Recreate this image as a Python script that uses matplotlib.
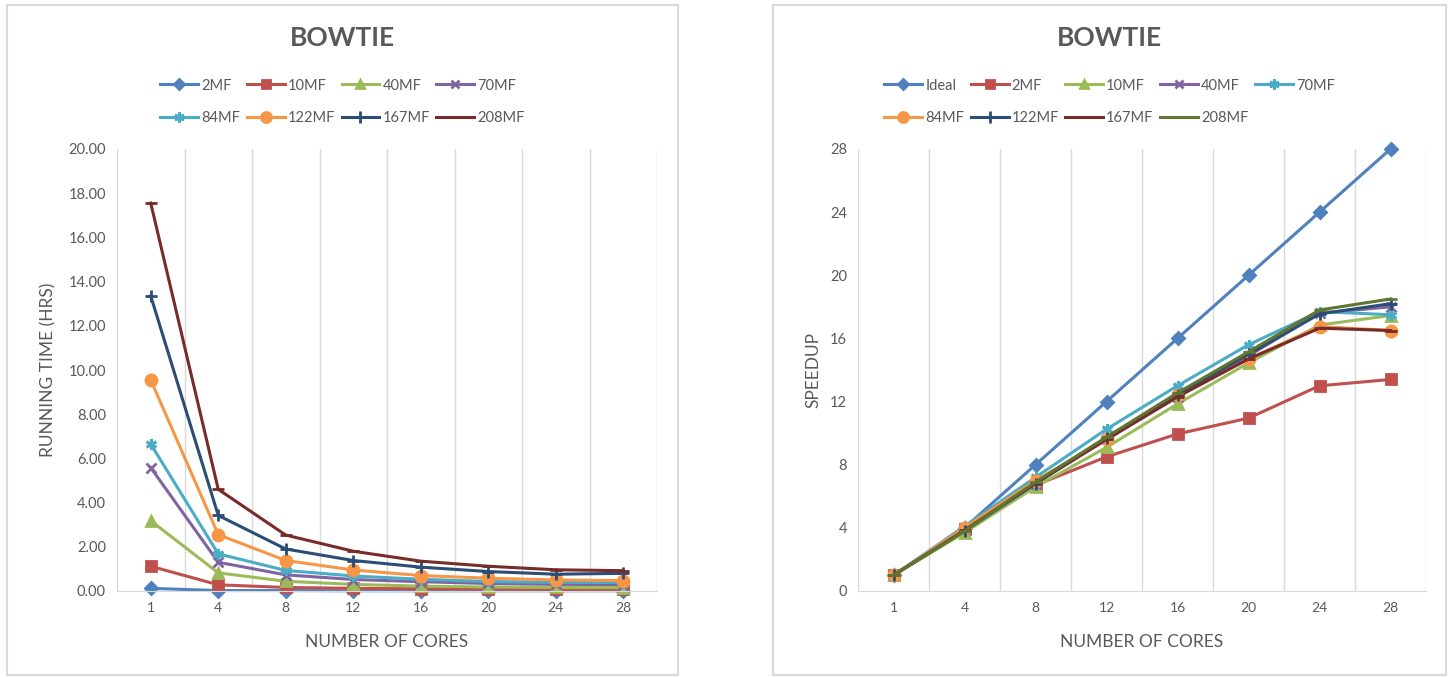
import matplotlib.pyplot as plt
from matplotlib.patches import Rectangle

plt.rcParams['font.family'] = ['Lato', 'DejaVu Sans']

cores = ['1', '4', '8', '12', '16', '20', '24', '28']

# running time (hrs), left chart
time_labels = ['2MF', '10MF', '40MF', '70MF', '84MF', '122MF', '167MF', '208MF']
t_2mf = [0.12, 0.02, 0.02, 0.01, 0.01, 0.01, 0.01, 0.01]
t_10mf = [1.12, 0.28, 0.16, 0.12, 0.10, 0.09, 0.08, 0.08]
t_40mf = [3.18, 0.82, 0.44, 0.30, 0.22, 0.18, 0.16, 0.15]
t_70mf = [5.58, 1.30, 0.73, 0.52, 0.42, 0.34, 0.30, 0.29]
t_84mf = [6.65, 1.68, 0.93, 0.68, 0.53, 0.43, 0.39, 0.38]
t_122mf = [9.55, 2.55, 1.38, 0.95, 0.70, 0.58, 0.50, 0.47]
t_167mf = [13.35, 3.42, 1.90, 1.38, 1.08, 0.88, 0.76, 0.80]
t_208mf = [17.55, 4.60, 2.53, 1.80, 1.35, 1.12, 0.96, 0.92]
time_series = [t_2mf, t_10mf, t_40mf, t_70mf, t_84mf, t_122mf, t_167mf, t_208mf]

# speedup, right chart
speed_labels = ['Ideal', '2MF', '10MF', '40MF', '70MF', '84MF', '122MF', '167MF', '208MF']
s_ideal = [1, 4, 8, 12, 16, 20, 24, 28]
s_2mf = [1, 3.95, 6.7, 8.5, 9.95, 10.95, 13.0, 13.4]
s_10mf = [1, 3.7, 6.6, 9.1, 11.85, 14.45, 16.85, 17.45]
s_40mf = [1, 3.9, 6.8, 9.6, 12.3, 14.9, 17.6, 18.0]
s_70mf = [1, 4.1, 7.2, 10.25, 13.0, 15.6, 17.7, 17.5]
s_84mf = [1, 4.0, 7.0, 9.6, 12.4, 14.7, 16.75, 16.5]
s_122mf = [1, 3.8, 6.8, 9.7, 12.4, 15.0, 17.55, 18.2]
s_167mf = [1, 3.85, 6.85, 9.6, 12.3, 14.7, 16.65, 16.5]
s_208mf = [1, 3.8, 6.9, 9.75, 12.55, 15.15, 17.8, 18.5]
speed_series = [s_ideal, s_2mf, s_10mf, s_40mf, s_70mf, s_84mf, s_122mf, s_167mf, s_208mf]

colors = ['#4F81BD', '#C0504D', '#9BBB59', '#8064A2', '#4BACC6',
          '#F79646', '#2C4D75', '#772C2A', '#5F7530']
asterisk = (6, 2, 0)
markers = ['D', 's', '^', 'x', asterisk, 'o', '+', '_', '_']
msizes = [6, 7, 7, 7, 8, 8, 9, 8, 8]
txt = '#595959'
grid = '#D9D9D9'

W, H = 1450, 677
fig = plt.figure(figsize=(W / 100, H / 100), dpi=100)

# panel frames
for x0, x1 in [(7, 678), (773, 1446)]:
    fig.patches.append(Rectangle((x0 / W, 1 - 675 / H), (x1 - x0) / W, 670 / H,
                                 transform=fig.transFigure, fill=False,
                                 edgecolor=grid, linewidth=1.5))


def setup(ax, ymax, ystep, fmt, ylabel, ylab_x):
    x = range(len(cores))
    ax.set_xlim(-0.5, len(cores) - 0.5)
    ax.set_ylim(0, ymax)
    ax.set_xticks(list(x))
    ax.set_xticklabels(cores, color=txt, fontsize=10)
    ticks = [i * ystep for i in range(int(round(ymax / ystep)) + 1)]
    ax.set_yticks(ticks)
    ax.set_yticklabels([fmt.format(t) for t in ticks], color=txt, fontsize=10.5)
    ax.tick_params(length=0, pad=8)
    for k in range(len(cores) + 1):
        ax.axvline(k - 0.5, color=grid, lw=1, zorder=0)
    for s in ['top', 'right', 'left']:
        ax.spines[s].set_visible(False)
    ax.spines['bottom'].set_color(grid)
    ax.set_xlabel('NUMBER OF CORES', color=txt, fontsize=12.5)
    ax.xaxis.set_label_coords(0.5, -0.098)
    ax.set_ylabel(ylabel, color=txt, fontsize=12.5)
    ax.yaxis.set_label_coords(ylab_x, 0.5)


ax1 = fig.add_axes([117 / W, 1 - 591 / H, 540 / W, 442 / H])
setup(ax1, 20, 2, '{:.2f}', 'RUNNING TIME (HRS)', -0.113)
h1 = []
for i, (lab, ys) in enumerate(zip(time_labels, time_series)):
    ln, = ax1.plot(range(len(cores)), ys, color=colors[i], lw=2.2,
                   marker=markers[i], ms=msizes[i], mew=2, label=lab, clip_on=False)
    h1.append(ln)

ax2 = fig.add_axes([858 / W, 1 - 591 / H, 568 / W, 442 / H])
setup(ax2, 28, 4, '{:.0f}', 'SPEEDUP', -0.064)
h2 = []
for i, (lab, ys) in enumerate(zip(speed_labels, speed_series)):
    ln, = ax2.plot(range(len(cores)), ys, color=colors[i], lw=2.2,
                   marker=markers[i], ms=msizes[i], mew=2, label=lab, clip_on=False)
    h2.append(ln)

# legends fill row by row, matplotlib fills column by column
h1 = [h1[k] for k in [0, 4, 1, 5, 2, 6, 3, 7]]
h2 = [h2[k] for k in [0, 5, 1, 6, 2, 7, 3, 8, 4]]

for cx, handles, ncol in [(342.5, h1, 4), (1109.5, h2, 5)]:
    fig.text(cx / W, 1 - 38 / H, 'BOWTIE', ha='center', va='center',
             fontsize=19, fontweight='bold', color=txt)
    fig.legend(handles=handles, loc='center', bbox_to_anchor=(cx / W, 1 - 102 / H),
               ncol=ncol, frameon=False, fontsize=10.5, handlelength=2.6,
               handletextpad=0.2, columnspacing=0.45, labelspacing=1.3,
               labelcolor=txt, markerscale=0.9)

fig.savefig('out.png', dpi=100)
